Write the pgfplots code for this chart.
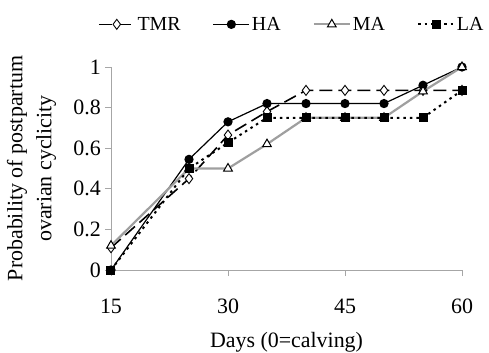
\documentclass[border=0pt]{standalone}
\usepackage{fontspec}
\setmainfont{Liberation Serif}
\usepackage{pgfplots}
\pgfplotsset{compat=1.18}
\begin{document}
\begin{tikzpicture}[x=1bp,y=1bp,font=\fontsize{22}{29}\selectfont]
\begin{axis}[
  at={(0,0)}, anchor=south west,
  scale only axis, width=351bp, height=203bp,
  xmin=15, xmax=60, ymin=0, ymax=1,
  axis lines*=left,
  axis line style={gray!70, line width=0.8bp, -},
  xtick={15,30,45,60}, ytick={0,0.2,0.4,0.6,0.8,1},
  yticklabels={0,0.2,0.4,0.6,0.8,1},
  tick style={gray!70, line width=0.8bp},
  tick align=outside, major tick length=6bp,
  /pgf/number format/assume math mode=true,
  xticklabel style={inner sep=0pt, anchor=north, yshift=-23bp},
  yticklabel style={inner sep=0pt, anchor=east, xshift=-4bp},
  xlabel={Days (0=calving)},
  xlabel style={inner sep=0pt, at={(axis description cs:0.5,0)}, anchor=base, yshift=-77bp},
  ylabel={Probability of postpartum\\ovarian cyclicity},
  ylabel style={align=center, inner sep=0pt, at={(axis description cs:-0.156,0.5)}, anchor=south, rotate=0},
  clip=false,
  legend columns=4,
  legend style={draw=none, fill=none, font=\fontsize{20}{24}\selectfont, at={(axis description cs:0.515,1.21)}, anchor=center,
    /tikz/every even column/.append style={column sep=30bp}},
  legend image code/.code={\draw[mark repeat=2,mark phase=2,#1] plot coordinates {(0bp,0bp) (18bp,0bp) (36bp,0bp)};},
]
\addplot[black, line width=1.6bp, dash pattern=on 13bp off 6bp, mark=diamond*, mark size=5bp, mark options={fill=white, solid, line width=0.9bp}]
 coordinates {(15,0.11) (25,0.45) (30,0.665) (35,0.78) (40,0.885) (45,0.885) (50,0.885) (55,0.885) (60,0.885)};
\addlegendentry{TMR}
\addplot[black, line width=1.2bp, mark=*, mark size=4bp]
 coordinates {(15,0) (25,0.545) (30,0.73) (35,0.82) (40,0.82) (45,0.82) (50,0.82) (55,0.91) (60,1.0)};
\addlegendentry{HA}
\addplot[gray!75, line width=2.2bp, mark=triangle*, mark size=5bp, mark options={fill=white, draw=black, line width=1bp}]
 coordinates {(15,0.12) (25,0.5) (30,0.5) (35,0.62) (40,0.75) (45,0.75) (50,0.75) (55,0.88) (60,1.0)};
\addlegendentry{MA}
\addplot[black, line width=2bp, dash pattern=on 2.5bp off 4bp, mark=square*, mark size=3.5bp, mark options={solid}]
 coordinates {(15,0) (25,0.5) (30,0.627) (35,0.75) (40,0.75) (45,0.75) (50,0.75) (55,0.75) (60,0.885)};
\addlegendentry{LA}
\end{axis}
\pgfresetboundingbox
\useasboundingbox (-111,-82) rectangle (378,270);
\end{tikzpicture}
\end{document}
